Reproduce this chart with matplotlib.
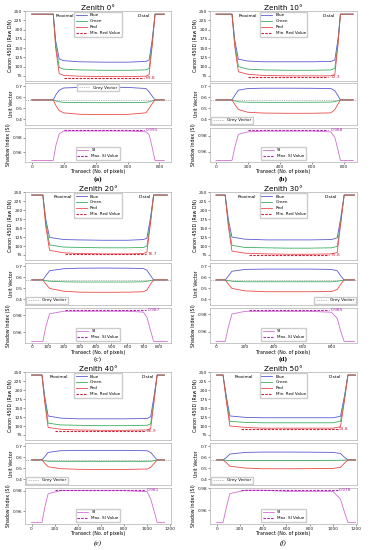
import matplotlib
matplotlib.use("Agg")
import matplotlib.pyplot as plt

# ---- data ---------------------------------------------------------------
ZENITH = [0, 10, 20, 30, 40, 50]
PANEL = ["(a)", "(b)", "(c)", "(d)", "(e)", "(f)"]

# transect positions (pixels) where the profiles were read
X_KNOTS = [
    [0, 135, 150, 172, 200, 300, 450, 600, 715, 735, 755, 772, 830],
    [0, 100, 118, 140, 200, 300, 450, 600, 720, 745, 765, 780, 860],
    [0, 70, 88, 112, 200, 300, 450, 600, 700, 722, 745, 764, 850],
    [0, 63, 85, 110, 200, 350, 500, 650, 800, 840, 865, 888, 960],
    [0, 90, 115, 143, 250, 400, 600, 800, 1000, 1030, 1060, 1086, 1150],
    [0, 55, 85, 114, 250, 400, 600, 800, 1000, 1065, 1100, 1129, 1195],
]

# Canon 450D raw DN
BLUE = [
    [242, 242, 170, 121, 116, 113, 112, 112, 114, 118, 175, 242, 242],
    [242, 242, 170, 120, 115, 113, 113, 113, 114, 118, 175, 242, 242],
    [242, 242, 175, 124, 118, 117, 116, 116, 118, 122, 180, 242, 242],
    [242, 242, 175, 125, 119, 117, 117, 117, 118, 123, 180, 242, 242],
    [242, 242, 180, 128, 122, 120, 120, 120, 121, 126, 185, 242, 242],
    [242, 242, 180, 128, 124, 123, 123, 123, 123, 127, 185, 242, 242],
]
GREEN = [
    [242, 242, 160, 98, 93, 91, 90, 90, 91, 95, 165, 242, 242],
    [242, 242, 160, 100, 93, 91, 90, 90, 91, 95, 165, 242, 242],
    [242, 242, 165, 103, 97, 96, 95, 95, 96, 100, 170, 242, 242],
    [242, 242, 165, 102, 96, 95, 94, 94, 95, 99, 170, 242, 242],
    [242, 242, 170, 108, 103, 102, 101, 101, 102, 106, 175, 242, 242],
    [242, 242, 172, 113, 110, 109, 109, 109, 109, 113, 178, 242, 242],
]
RED = [
    [242, 242, 150, 81, 76, 74, 73, 73, 74, 78, 160, 242, 242],
    [242, 242, 152, 86, 79, 76, 75, 75, 75, 79, 160, 242, 242],
    [242, 242, 155, 88, 81, 79, 78, 78, 79, 83, 165, 242, 242],
    [242, 242, 155, 86, 80, 78, 77, 77, 78, 82, 165, 242, 242],
    [242, 242, 162, 96, 91, 89, 88, 88, 89, 93, 170, 242, 242],
    [242, 242, 165, 100, 96, 94, 94, 94, 94, 98, 172, 242, 242],
]
MIN_RED = [69.8, 72.3, 76.7, 75.8, 86.9, 91.8]

# unit vector components
UV_BLUE = [
    [0.577, 0.577, 0.620, 0.665, 0.685, 0.690, 0.692, 0.690, 0.680, 0.650, 0.610, 0.577, 0.577],
    [0.577, 0.577, 0.620, 0.665, 0.680, 0.683, 0.683, 0.682, 0.680, 0.660, 0.615, 0.577, 0.577],
    [0.577, 0.577, 0.615, 0.660, 0.678, 0.683, 0.684, 0.683, 0.680, 0.665, 0.615, 0.577, 0.577],
    [0.577, 0.577, 0.612, 0.655, 0.672, 0.675, 0.675, 0.675, 0.672, 0.660, 0.612, 0.577, 0.577],
    [0.577, 0.577, 0.608, 0.645, 0.660, 0.663, 0.663, 0.663, 0.660, 0.645, 0.608, 0.577, 0.577],
    [0.577, 0.577, 0.600, 0.630, 0.645, 0.648, 0.648, 0.647, 0.645, 0.635, 0.600, 0.577, 0.577],
]
UV_GREEN = [
    [0.577, 0.577, 0.568, 0.560, 0.555, 0.553, 0.552, 0.553, 0.555, 0.560, 0.568, 0.577, 0.577],
    [0.577, 0.577, 0.568, 0.560, 0.556, 0.555, 0.555, 0.556, 0.557, 0.562, 0.570, 0.577, 0.577],
    [0.577, 0.577, 0.570, 0.565, 0.560, 0.558, 0.558, 0.558, 0.560, 0.565, 0.570, 0.577, 0.577],
    [0.577, 0.577, 0.570, 0.565, 0.560, 0.560, 0.560, 0.560, 0.560, 0.565, 0.570, 0.577, 0.577],
    [0.577, 0.577, 0.570, 0.565, 0.564, 0.564, 0.564, 0.564, 0.564, 0.565, 0.570, 0.577, 0.577],
    [0.577, 0.577, 0.574, 0.572, 0.571, 0.572, 0.572, 0.572, 0.573, 0.574, 0.575, 0.577, 0.577],
]
UV_RED = [
    [0.577, 0.577, 0.530, 0.480, 0.460, 0.447, 0.445, 0.446, 0.460, 0.500, 0.545, 0.577, 0.577],
    [0.577, 0.577, 0.535, 0.490, 0.465, 0.458, 0.456, 0.456, 0.460, 0.490, 0.540, 0.577, 0.577],
    [0.577, 0.577, 0.540, 0.500, 0.475, 0.466, 0.465, 0.466, 0.470, 0.485, 0.540, 0.577, 0.577],
    [0.577, 0.577, 0.540, 0.500, 0.478, 0.470, 0.470, 0.470, 0.472, 0.490, 0.540, 0.577, 0.577],
    [0.577, 0.577, 0.545, 0.515, 0.498, 0.492, 0.490, 0.490, 0.495, 0.510, 0.545, 0.577, 0.577],
    [0.577, 0.577, 0.550, 0.520, 0.503, 0.497, 0.497, 0.498, 0.500, 0.510, 0.548, 0.577, 0.577],
]
GREY_VECTOR = 0.577

# shadow index
SI = [
    [0.949, 0.949, 0.968, 0.985, 0.989, 0.989, 0.989, 0.989, 0.988, 0.984, 0.966, 0.949, 0.949],
    [0.949, 0.949, 0.966, 0.982, 0.985, 0.986, 0.986, 0.986, 0.985, 0.978, 0.962, 0.949, 0.949],
    [0.949, 0.949, 0.966, 0.982, 0.985, 0.985, 0.985, 0.985, 0.984, 0.978, 0.962, 0.949, 0.949],
    [0.949, 0.949, 0.965, 0.980, 0.983, 0.983, 0.983, 0.983, 0.982, 0.975, 0.960, 0.949, 0.949],
    [0.949, 0.949, 0.964, 0.977, 0.980, 0.980, 0.980, 0.980, 0.979, 0.972, 0.960, 0.949, 0.949],
    [0.949, 0.949, 0.963, 0.975, 0.978, 0.978, 0.977, 0.977, 0.977, 0.970, 0.958, 0.949, 0.949],
]
MAX_SI = [0.991, 0.988, 0.987, 0.985, 0.981, 0.978]

# extent of the dashed min / max reference lines
DASH_START = [200, 200, 210, 230, 200, 210]
DASH_END = [700, 705, 715, 785, 985, 1040]

X_TICKS = [
    [0, 200, 400, 600, 800],
    [0, 200, 400, 600, 800],
    [0, 100, 200, 300, 400, 500, 600, 700, 800],
    [0, 200, 400, 600, 800],
    [0, 200, 400, 600, 800, 1000, 1200],
    [0, 200, 400, 600, 800, 1000, 1200],
]

# ---- layout (pixels of the 371x550 canvas) ------------------------------
W, H = 371, 550
COL_PX = [(25, 171), (210, 357)]
TOP_PX = [(11, 81), (192, 260), (372, 440)]
MID_PX = [(83, 125), (263, 305), (443, 485)]
BOT_PX = [(128, 162), (308, 343), (488, 524)]
LABEL_Y = [179, 359, 543]
X_LIM = [(-42, 872), (-38, 884), (-42, 873), (-42, 977), (-57, 1206), (-57, 1207)]
PROX_X = [0.27, 0.26, 0.26, 0.25, 0.23, 0.23]
DIST_X = [0.815, 0.81, 0.82, 0.82, 0.84, 0.85]
GREY_LOC = ["upper center", "lower left", "lower left", "lower right", "lower left", "lower left"]
LABEL_WEIGHT = ["bold", "bold", "normal", "bold", "normal", "normal"]
LABEL_STYLE = ["normal", "normal", "normal", "normal", "italic", "italic"]

C_BLUE = "#5a5ad2"
C_GREEN = "#3cae60"
C_RED = "#ec4a4a"
C_MINRED = "#c8203c"
C_SI = "#d070d0"
C_MAXSI = "#b020b0"
SPINE = "#b0b0b0"

FS_TICK = 3.2
FS_LAB = 3.4


def box(col, rows):
    x0, x1 = COL_PX[col]
    y0, y1 = rows
    return [x0 / W, 1 - y1 / H, (x1 - x0) / W, (y1 - y0) / H]


def style(ax):
    for s in ax.spines.values():
        s.set_color(SPINE)
        s.set_linewidth(0.5)
    ax.tick_params(labelsize=FS_TICK, length=1.2, width=0.4, pad=0.6,
                   colors="#444444", labelcolor="#222222")


fig = plt.figure(figsize=(W / 100, H / 100), dpi=100)

for i in range(6):
    col, row = i % 2, i // 2
    x = X_KNOTS[i]

    # --- raw DN ---
    ax1 = fig.add_axes(box(col, TOP_PX[row]))
    ax1.plot(x, BLUE[i], color=C_BLUE, lw=0.6, label="Blue")
    ax1.plot(x, GREEN[i], color=C_GREEN, lw=0.6, label="Green")
    ax1.plot(x, RED[i], color=C_RED, lw=0.6, label="Red")
    ax1.hlines(MIN_RED[i], DASH_START[i], DASH_END[i], color=C_MINRED,
               lw=0.8, linestyles=(0, (2.2, 1.2)), label="Min. Red Value")
    ax1.text(DASH_END[i] + 12, MIN_RED[i], f"{MIN_RED[i]:.1f}", color=C_MINRED,
             fontsize=FS_TICK, va="center", ha="left")
    ax1.set_xlim(*X_LIM[i])
    ax1.set_ylim(61, 250.5)
    ax1.set_yticks([75, 100, 125, 150, 175, 200, 225, 250])
    ax1.set_xticks(X_TICKS[i])
    ax1.tick_params(axis="x", labelbottom=False, length=0)
    ax1.set_ylabel("Canon 450D (Raw DN)", fontsize=FS_LAB, labelpad=1)
    ax1.set_title(f"Zenith {ZENITH[i]}°", fontsize=5.2, pad=0.8)
    ax1.text(PROX_X[i], 0.93, "Proximal", transform=ax1.transAxes,
             fontsize=FS_TICK, ha="center", va="center")
    ax1.text(DIST_X[i], 0.93, "Distal", transform=ax1.transAxes,
             fontsize=FS_TICK, ha="center", va="center")
    ax1.legend(loc="upper center", fontsize=3.0, handlelength=2.6,
               labelspacing=0.45, borderpad=0.35, borderaxespad=0.25,
               frameon=True, edgecolor="#cccccc", framealpha=1, fancybox=False)
    style(ax1)
    ax1.tick_params(axis="x", length=0)

    # --- unit vector ---
    ax2 = fig.add_axes(box(col, MID_PX[row]))
    ax2.axhline(GREY_VECTOR, color="#aaaaaa", lw=0.5, ls=(0, (2, 1.2)),
                label="Grey Vector", zorder=1)
    ax2.plot(x, UV_BLUE[i], color=C_BLUE, lw=0.6, zorder=2)
    ax2.plot(x, UV_GREEN[i], color=C_GREEN, lw=0.6, zorder=2)
    ax2.plot(x, UV_RED[i], color=C_RED, lw=0.6, zorder=2)
    ax2.set_xlim(*X_LIM[i])
    ax2.set_ylim(0.35, 0.73)
    ax2.set_yticks([0.4, 0.5, 0.6, 0.7])
    ax2.set_xticks(X_TICKS[i])
    ax2.tick_params(axis="x", labelbottom=False)
    ax2.set_ylabel("Unit Vector", fontsize=FS_LAB, labelpad=1)
    ax2.legend(loc=GREY_LOC[i], fontsize=3.0, handlelength=2.6,
               borderpad=0.35, borderaxespad=0.3, frameon=True,
               edgecolor="#cccccc", framealpha=1, fancybox=False)
    style(ax2)
    ax2.tick_params(axis="x", length=0)

    # --- shadow index ---
    ax3 = fig.add_axes(box(col, BOT_PX[row]))
    ax3.plot(x, SI[i], color=C_SI, lw=0.6, label="SI")
    ax3.hlines(MAX_SI[i], DASH_START[i], DASH_END[i], color=C_MAXSI,
               lw=0.8, linestyles=(0, (2.2, 1.2)), label="Max. SI Value")
    ax3.text(DASH_END[i] + 12, MAX_SI[i], f"{MAX_SI[i]:.3f}", color=C_MAXSI,
             fontsize=FS_TICK, va="center", ha="left")
    ax3.set_xlim(*X_LIM[i])
    ax3.set_yticks([0.96, 0.98])
    ax3.set_xticks(X_TICKS[i])
    ax3.set_ylabel("Shadow Index (SI)", fontsize=FS_LAB, labelpad=1)
    ax3.set_xlabel("Transect (No. of pixels)", fontsize=FS_LAB, labelpad=0.3)
    ax3.legend(loc="lower center", fontsize=3.0, handlelength=2.6,
               labelspacing=0.45, borderpad=0.35, borderaxespad=0.6,
               frameon=True, edgecolor="#cccccc", framealpha=1, fancybox=False)
    style(ax3)

    # panel letter
    cx = (COL_PX[col][0] + COL_PX[col][1]) / 2 / W
    fig.text(cx, 1 - LABEL_Y[row] / H, PANEL[i], ha="center", va="center",
             fontsize=5.2, family="Liberation Serif", weight=LABEL_WEIGHT[i],
             style=LABEL_STYLE[i])

fig.savefig("out.png", dpi=100)
